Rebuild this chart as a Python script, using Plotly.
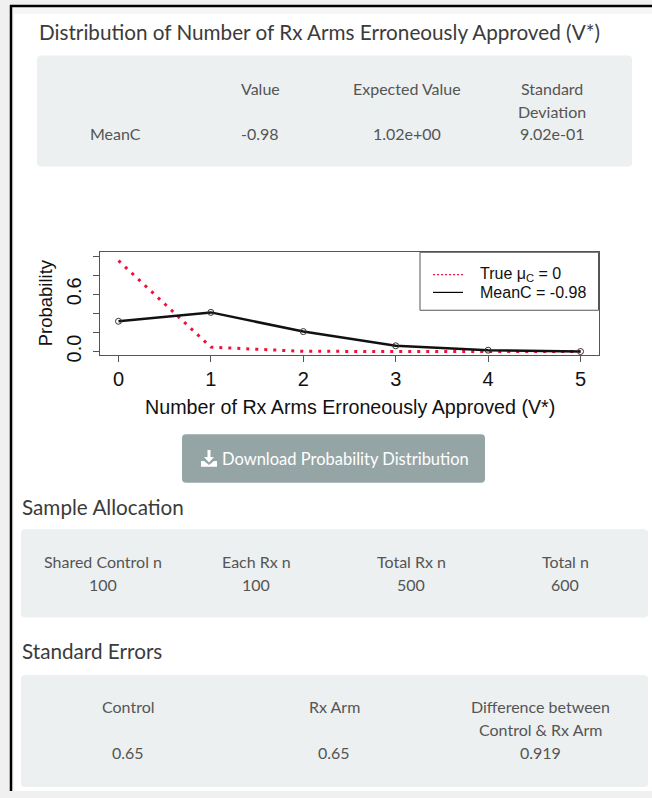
import plotly.graph_objects as go

# ---------------- data ----------------
v_star = [0, 1, 2, 3, 4, 5]
prob_true = [0.952, 0.046, 0.002, 0.0, 0.0, 0.0]
prob_meanc = [0.317, 0.41, 0.209, 0.06, 0.014, 0.0]
y_labelled_ticks = [0.0, 0.6]
y_ticktext = ["0.0", "0.6"]
y_minor_ticks = [0.2, 0.4, 0.8, 1.0]

dist_headers = ["", "Value", "Expected Value", "Standard<br>Deviation"]
dist_row = ["MeanC", "-0.98", "1.02e+00", "9.02e-01"]

alloc_headers = ["Shared Control n", "Each Rx n", "Total Rx n", "Total n"]
alloc_values = ["100", "100", "500", "600"]

se_headers = ["Control", "Rx Arm", "Difference between<br>Control & Rx Arm"]
se_values = ["0.65", "0.65", "0.919"]

legend_labels = ["True \u03bc<sub>C</sub> = 0", "MeanC = -0.98"]

# ---------------- helpers ----------------
W, H = 652, 798


def X(px):
    return px / W


def Y(py):
    return 1 - py / H


UI_FONT = "Lato"
R_FONT = "Liberation Sans, Arial"
TXT = "#3b3b3b"
TBL = "#555555"

fig = go.Figure()

fig.add_trace(go.Scatter(
    x=v_star, y=prob_true, mode="lines",
    line=dict(color="#f0103c", width=3, dash="3px,6px"),
    showlegend=False, hoverinfo="skip"))
fig.add_trace(go.Scatter(
    x=v_star, y=prob_meanc, mode="lines+markers",
    line=dict(color="#111111", width=2.5),
    marker=dict(symbol="circle-open", size=6, color="#333333",
                line=dict(width=1, color="#333333")),
    showlegend=False, hoverinfo="skip"))

shapes = []
# light strip inside the border, then the white page panel
shapes.append(dict(type="rect", xref="paper", yref="paper",
                   x0=X(12), x1=X(652), y0=Y(798), y1=Y(7),
                   fillcolor="#f6f6f6", line=dict(width=0), layer="below"))
shapes.append(dict(type="rect", xref="paper", yref="paper",
                   x0=X(14), x1=X(652), y0=Y(798), y1=Y(14),
                   fillcolor="white", line=dict(width=0), layer="below"))
# black border lines
shapes.append(dict(type="line", xref="paper", yref="paper",
                   x0=X(11), x1=X(11), y0=Y(5), y1=Y(798),
                   line=dict(color="black", width=2.5), layer="below"))
shapes.append(dict(type="line", xref="paper", yref="paper",
                   x0=X(10), x1=X(652), y0=Y(6), y1=Y(6),
                   line=dict(color="black", width=2.5), layer="below"))


def rrect(x0, y0, x1, y1, r, color):
    p = (f"M {X(x0 + r)},{Y(y0)} L {X(x1 - r)},{Y(y0)} "
         f"Q {X(x1)},{Y(y0)} {X(x1)},{Y(y0 + r)} "
         f"L {X(x1)},{Y(y1 - r)} Q {X(x1)},{Y(y1)} {X(x1 - r)},{Y(y1)} "
         f"L {X(x0 + r)},{Y(y1)} Q {X(x0)},{Y(y1)} {X(x0)},{Y(y1 - r)} "
         f"L {X(x0)},{Y(y0 + r)} Q {X(x0)},{Y(y0)} {X(x0 + r)},{Y(y0)} Z")
    return dict(type="path", xref="paper", yref="paper", path=p,
                fillcolor=color, line=dict(width=0), layer="below")


WELL = "#ecf0f1"
shapes.append(rrect(37, 56, 632, 168, 4, WELL))
shapes.append(rrect(21, 534, 648, 623, 4, WELL))
shapes.append(rrect(21, 681, 648, 794, 4, WELL))
# button
shapes.append(rrect(182, 438, 485, 487, 4, "#95a5a6"))
# download icon
icon = (f"M {X(207.5)},{Y(454)} L {X(210.5)},{Y(454)} L {X(210.5)},{Y(461)} "
        f"L {X(214)},{Y(461)} L {X(209)},{Y(466.5)} L {X(204)},{Y(461)} "
        f"L {X(207.5)},{Y(461)} Z")
shapes.append(dict(type="path", xref="paper", yref="paper", path=icon,
                   fillcolor="white", line=dict(width=0)))
tray = (f"M {X(201)},{Y(465)} L {X(204)},{Y(465)} L {X(209)},{Y(469)} "
        f"L {X(214)},{Y(465)} L {X(217)},{Y(465)} L {X(217)},{Y(471)} "
        f"L {X(201)},{Y(471)} Z")
shapes.append(dict(type="path", xref="paper", yref="paper", path=tray,
                   fillcolor="white", line=dict(width=0)))

# legend box
shapes.append(dict(type="rect", xref="paper", yref="paper",
                   x0=X(420), x1=X(598.5), y0=Y(313), y1=Y(254.5),
                   fillcolor="white", line=dict(color="#555555", width=1)))
shapes.append(dict(type="line", xref="paper", yref="paper",
                   x0=X(433), x1=X(463), y0=Y(277), y1=Y(277),
                   line=dict(color="#f0103c", width=1.2, dash="2px,2px")))
shapes.append(dict(type="line", xref="paper", yref="paper",
                   x0=X(433), x1=X(463), y0=Y(295), y1=Y(295),
                   line=dict(color="black", width=1.2)))

ann = []


def text(x, y, s, size, color, font=UI_FONT, xanchor="center", yanchor="middle"):
    ann.append(dict(x=X(x), y=Y(y), xref="paper", yref="paper", text=s,
                    showarrow=False, xanchor=xanchor, yanchor=yanchor,
                    font=dict(family=font, size=size, color=color)))


def multiline(x, y_first, s, size, color, step):
    for i, line in enumerate(s.split("<br>")):
        text(x, y_first + i * step, line, size, color)


HEAD = 20.7
CELL = 16

text(37, 32, "Distribution of Number of Rx Arms Erroneously Approved (V*)", HEAD, TXT, xanchor="left")

dist_x = [115, 260, 407, 552]
for cx, h, v in zip(dist_x, dist_headers, dist_row):
    if h:
        multiline(cx, 89, h, CELL, TBL, 23)
    text(cx, 135, v, CELL, TBL)

text(350, 411, "Number of Rx Arms Erroneously Approved (V*)", 19.7, "#111111", font=R_FONT)
ann.append(dict(x=X(45), y=Y(306), xref="paper", yref="paper", text="Probability",
                showarrow=False, textangle=-90, xanchor="center", yanchor="middle",
                font=dict(family=R_FONT, size=18.5, color="#111111")))

text(478, 277, legend_labels[0], 16, "#111111", font=R_FONT, xanchor="left")
text(478, 295, legend_labels[1], 16, "#111111", font=R_FONT, xanchor="left")

text(220, 463, "Download Probability Distribution", 16.5, "white", xanchor="left")

text(20, 511, "Sample Allocation", HEAD, TXT, xanchor="left")
alloc_x = [103, 256, 411, 565]
for cx, h, v in zip(alloc_x, alloc_headers, alloc_values):
    text(cx, 566, h, CELL, TBL)
    text(cx, 590, v, CELL, TBL)

text(20, 657, "Standard Errors", HEAD, TXT, xanchor="left")
se_x = [128, 334, 540]
for cx, h, v in zip(se_x, se_headers, se_values):
    multiline(cx, 713, h, CELL, TBL, 23)
    text(cx, 759, v, CELL, TBL)

fig.update_layout(
    width=W, height=H, autosize=False,
    margin=dict(l=0, r=0, t=0, b=0, pad=0),
    paper_bgcolor="#f0f0f0", plot_bgcolor="rgba(0,0,0,0)",
    shapes=shapes, annotations=ann, showlegend=False,
    xaxis=dict(domain=[X(100), X(599)], range=[-0.2, 5.2],
               tickvals=v_star, ticktext=[str(v) for v in v_star],
               ticks="outside", ticklen=6, tickcolor="#555555", tickwidth=1,
               showline=True, mirror=True, linecolor="#555555", linewidth=1,
               showgrid=False, zeroline=False,
               tickfont=dict(family=R_FONT, size=20, color="#111111")),
    yaxis=dict(domain=[Y(358.5), Y(254.5)], range=[-0.04, 1.04],
               tickvals=y_labelled_ticks, ticktext=y_ticktext, tickangle=-90,
               ticks="outside", ticklen=6, tickcolor="#555555", tickwidth=1,
               minor=dict(tickvals=y_minor_ticks, ticks="outside", ticklen=6,
                          tickcolor="#555555", tickwidth=1, showgrid=False),
               showline=True, mirror=True, linecolor="#555555", linewidth=1,
               showgrid=False, zeroline=False, ticklabelstandoff=4,
               tickfont=dict(family=R_FONT, size=20, color="#111111")),
)

fig.write_html("out.html", config={"displayModeBar": False},
               post_script="document.body.style.margin='0px';")
